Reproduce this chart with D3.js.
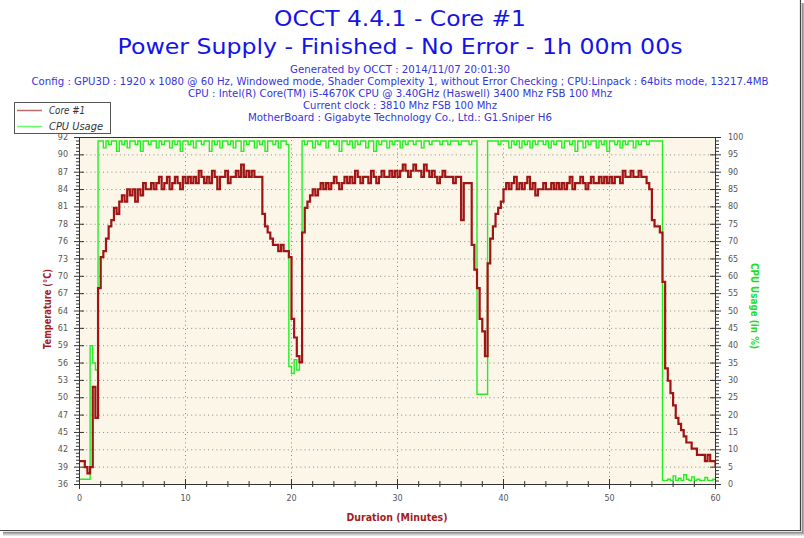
<!DOCTYPE html>
<html><head><meta charset="utf-8">
<script src="https://cdn.jsdelivr.net/npm/d3@7"></script>
<style>
body{margin:0;background:#fff}
svg{display:block}
text{font-family:"DejaVu Sans",Verdana,sans-serif}
</style>
</head><body>
<svg id="chart" width="804" height="538"></svg>
<script>
// ---------------- data ----------------
const titleLines = ["OCCT 4.4.1 - Core #1", "Power Supply - Finished - No Error - 1h 00m 00s"];
const infoLines = [
  "Generated by OCCT : 2014/11/07 20:01:30",
  "Config : GPU3D : 1920 x 1080 @ 60 Hz, Windowed mode, Shader Complexity 1, without Error Checking ; CPU:Linpack : 64bits mode, 13217.4MB",
  "CPU : Intel(R) Core(TM) i5-4670K CPU @ 3.40GHz (Haswell) 3400 Mhz FSB 100 Mhz",
  "Current clock : 3810 Mhz FSB 100 Mhz",
  "MotherBoard : Gigabyte Technology Co., Ltd.: G1.Sniper H6"
];
const seriesNames = ["Core #1", "CPU Usage"];
const cpuTickValues = [0,5,10,15,20,25,30,35,40,45,50,55,60,65,70,75,80,85,90,95,100];
const tempTickLabels = ["36","39","42","45","47","50","53","56","59","61","64","67","70","73","76","78","81","84","87","90","92"];
const cpuTickLabels = ["0","5","10","15","20","25","30","35","40","45","50","55","60","65","70","75","80","85","90","95","100"];
const minuteTicks = [0,10,20,30,40,50,60];
const tempDomain = [36.2, 92.38];

// sample times (minutes), one reading every 15 s
const sampleStep = 0.25;
// Core #1 temperature (°C), one value per sample
const coreTemp = [
  40,40,39,38,39,52,47,68,73,74,
  76,78,79,81,80,82,83,82,84,83,
  84,82,84,83,85,84,84,85,84,85,
  86,84,85,86,84,85,86,85,84,86,
  85,86,85,86,85,87,86,85,86,85,
  87,86,84,86,86,87,85,86,86,87,
  86,88,86,87,86,87,86,86,86,80,
  78,77,76,75,75,74,75,74,74,73,
  63,60,57,56,77,81,82,83,84,83,
  84,85,84,85,84,85,86,85,84,85,
  86,85,86,85,87,86,85,86,86,85,
  87,86,85,86,87,86,86,87,86,87,
  86,87,88,87,86,87,88,87,87,86,
  88,87,86,87,86,85,86,87,86,86,
  86,85,86,86,79,85,85,85,75,71,
  68,63,61,57,72,76,78,80,81,82,
  84,85,84,85,86,84,85,84,85,86,
  84,85,83,84,84,85,84,84,85,84,
  85,84,85,84,85,86,84,85,85,86,
  85,84,85,86,85,85,86,85,86,85,
  86,85,86,86,85,87,86,86,87,86,
  86,87,86,86,85,84,79,78,78,77,
  69,55,53,51,49,47,46,45,44,43,
  43,42,42,41,41,41,40,41,40,40,
  39
];
// CPU usage (%), one value per sample
const cpuUsage = [
  1.5,1.5,1.5,1.5, 40,35,33,
  99,99,97,99,98,99,99,96,99,98,
  99,97,99,99,98,99,96,99,99,98,
  99,99,97,99,98,99,99,97,99,98,
  99,96,99,99,98,99,97,99,99,98,
  99,99,96,99,98,99,97,99,99,98,
  99,97,99,99,96,99,98,99,99,97,
  99,98,99,96,99,99,98,99,97,99,
  99,98,
  34,32,36,33,35,
  99,98,99,99,97,99,98,99,99,97,
  99,99,98,99,96,99,99,98,99,97,
  99,98,99,99,97,99,99,96,99,98,
  99,99,97,99,98,99,99,97,99,98,
  99,99,98,99,99,97,99,99,98,99,
  99,99,98,99,99,98,99,99,99,98,
  99,99,99,98,99,99,
  26,26,26,26,
  99,99,99,99,98,99,99,99,97,99,
  98,99,97,99,98,99,97,99,98,99,
  99,98,99,97,99,98,99,99,97,99,
  99,98,99,96,99,99,97,99,98,99,
  99,97,99,98,99,96,99,99,98,99,
  97,99,98,99,99,97,99,98,99,99,
  98,99,99,99,99,99,
  1.2,1.2,1.5,1.2,2.5,1.2,1.8,1.2,2.8,1.5,
  1.2,2.2,1.2,1.5,1.2,1.2,2,1.2,1.2,1.5,1.2
];

// ---------------- drawing ----------------
const svg = d3.select("#chart");
const plot = {left: 79, right: 715, top: 137, bottom: 484};

const x = d3.scaleLinear().domain([0, 60]).range([plot.left, plot.right]);
const yCpu = d3.scaleLinear().domain([0, 100]).range([plot.bottom, plot.top]);
const yTemp = d3.scaleLinear().domain(tempDomain).range([plot.bottom, plot.top]);

// outer frame with shadow (right + bottom)
const frame = svg.append("g");
frame.append("line").attr("x1",800.5).attr("x2",800.5).attr("y1",0).attr("y2",531).attr("stroke","#444").attr("stroke-width",1.2);
frame.append("line").attr("x1",0).attr("x2",801).attr("y1",530.5).attr("y2",530.5).attr("stroke","#444").attr("stroke-width",1.2);
[["#777",1.8],["#999",2.8],["#bbb",3.8],["#ddd",4.8]].forEach(([c,o])=>{
  frame.append("line").attr("x1",800.5+o).attr("x2",800.5+o).attr("y1",3).attr("y2",531+o).attr("stroke",c);
  frame.append("line").attr("x1",3).attr("x2",801+o).attr("y1",530.5+o).attr("y2",530.5+o).attr("stroke",c);
});

// titles
const titleY = [19, 47];
const titleLen = [252, 565];
titleLines.forEach((t,i)=>{
  svg.append("text").attr("x",400).attr("y",titleY[i]).attr("text-anchor","middle")
    .attr("dominant-baseline","central").attr("fill","#1414e6").attr("font-size",21)
    .attr("textLength",titleLen[i]).attr("lengthAdjust","spacingAndGlyphs").text(t);
});
const infoY = [69, 81, 93, 105.5, 117.5];
const infoLen = [220, 737, 424, 194, 304];
infoLines.forEach((t,i)=>{
  svg.append("text").attr("x",400).attr("y",infoY[i]).attr("text-anchor","middle")
    .attr("dominant-baseline","central").attr("fill","#3535dc").attr("font-size",10)
    .attr("textLength",infoLen[i]).attr("lengthAdjust","spacingAndGlyphs").text(t);
});

// plot background
svg.append("rect").attr("x",plot.left+0.5).attr("y",plot.top+0.5)
  .attr("width",plot.right-plot.left).attr("height",plot.bottom-plot.top).attr("fill","#fcf6e8");

// grid
const grid = svg.append("g").attr("stroke","#8a8a8a").attr("stroke-dasharray","1,3.2").attr("stroke-width",1);
cpuTickValues.slice(1,-1).forEach(v=>{
  grid.append("line").attr("x1",plot.left+3).attr("x2",plot.right).attr("y1",yCpu(v)+0.5).attr("y2",yCpu(v)+0.5);
});
minuteTicks.slice(1,-1).forEach(v=>{
  grid.append("line").attr("y1",plot.top+3).attr("y2",plot.bottom).attr("x1",x(v)+0.5).attr("x2",x(v)+0.5);
});

// series
const clip = svg.append("clipPath").attr("id","clip").append("rect")
  .attr("x",plot.left).attr("y",plot.top).attr("width",plot.right-plot.left+1).attr("height",plot.bottom-plot.top+1);
const g = svg.append("g").attr("clip-path","url(#clip)");
const cpuLine = d3.line().x((d,i)=>x(i*sampleStep)+0.5).y(d=>yCpu(d)+0.5).curve(d3.curveStepAfter);
const tempLine = d3.line().x((d,i)=>x(i*sampleStep)+0.5).y(d=>yTemp(d)+0.5).curve(d3.curveStepAfter);
g.append("path").datum(cpuUsage).attr("d",cpuLine).attr("fill","none").attr("stroke","#22ee22").attr("stroke-width",1.4);
g.append("path").datum(coreTemp).attr("d",tempLine).attr("fill","none").attr("stroke","#a01414").attr("stroke-width",2.2);

// top border
svg.append("line").attr("x1",plot.left).attr("x2",plot.right+1).attr("y1",plot.top+0.5).attr("y2",plot.top+0.5).attr("stroke","#333");

// axes
function styleAxis(sel){
  sel.select(".domain").attr("stroke","#333");
  sel.selectAll(".tick line").attr("stroke","#333");
  sel.selectAll(".tick text").attr("fill","#555").attr("font-size",8).attr("font-family","'Liberation Sans',Arial,sans-serif");
}
const minorY = d3.range(0,101,1).filter(v=>v%5!==0);
const minorX = d3.range(0,61,2).filter(v=>v%10!==0);

// left (temperature)
const leftMinor = svg.append("g").attr("transform",`translate(${plot.left},0)`)
  .call(d3.axisLeft(yCpu).tickValues(minorY).tickSize(3).tickFormat(""));
leftMinor.select(".domain").remove(); leftMinor.selectAll("line").attr("stroke","#333");
const leftAx = svg.append("g").attr("transform",`translate(${plot.left},0)`)
  .call(d3.axisLeft(yCpu).tickValues(cpuTickValues).tickSize(5).tickSizeOuter(0).tickPadding(6)
    .tickFormat((d,i)=>tempTickLabels[i]));
leftAx.selectAll(".tick line").attr("x1",5);
styleAxis(leftAx);

// right (cpu)
const rightMinor = svg.append("g").attr("transform",`translate(${plot.right},0)`)
  .call(d3.axisRight(yCpu).tickValues(minorY).tickSize(4).tickFormat(""));
rightMinor.select(".domain").remove(); rightMinor.selectAll("line").attr("stroke","#333");
const rightAx = svg.append("g").attr("transform",`translate(${plot.right},0)`)
  .call(d3.axisRight(yCpu).tickValues(cpuTickValues).tickSize(6).tickSizeOuter(0).tickPadding(7)
    .tickFormat((d,i)=>cpuTickLabels[i]));
rightAx.selectAll(".tick line").attr("x1",-5);
styleAxis(rightAx);

// bottom (minutes)
const botMinor = svg.append("g").attr("transform",`translate(0,${plot.bottom})`)
  .call(d3.axisBottom(x).tickValues(minorX).tickSize(3).tickFormat(""));
botMinor.select(".domain").remove(); botMinor.selectAll("line").attr("stroke","#333").attr("y1",-3);
const botAx = svg.append("g").attr("transform",`translate(0,${plot.bottom})`)
  .call(d3.axisBottom(x).tickValues(minuteTicks).tickSize(5).tickSizeOuter(0).tickPadding(6).tickFormat(d=>String(d)));
botAx.selectAll(".tick line").attr("y1",-5);
styleAxis(botAx);

// axis titles
svg.append("text").attr("transform","translate(47,309) rotate(-90)").attr("text-anchor","middle")
  .attr("dominant-baseline","central").attr("fill","#a51c1c").attr("font-weight","bold").attr("font-size",10)
  .attr("textLength",80).attr("lengthAdjust","spacingAndGlyphs").text("Temperature (°C)");
svg.append("text").attr("transform","translate(754,306) rotate(90)").attr("text-anchor","middle")
  .attr("dominant-baseline","central").attr("fill","#22dd22").attr("font-weight","bold").attr("font-size",10)
  .attr("textLength",86).attr("lengthAdjust","spacingAndGlyphs").text("CPU Usage (in %)");
svg.append("text").attr("x",397).attr("y",517).attr("text-anchor","middle")
  .attr("dominant-baseline","central").attr("fill","#a51c1c").attr("font-weight","bold").attr("font-size",10.5)
  .attr("textLength",101).attr("lengthAdjust","spacingAndGlyphs").text("Duration (Minutes)");

// legend
const leg = svg.append("g");
leg.append("rect").attr("x",14.5).attr("y",102.5).attr("width",96).attr("height",31)
  .attr("fill","#fff").attr("stroke","#555");
const legColors = ["#c06868","#66ff66"];
const legY = [110, 126];
const legLen = [36, 54];
seriesNames.forEach((n,i)=>{
  leg.append("line").attr("x1",17).attr("x2",42).attr("y1",legY[i]+0.5).attr("y2",legY[i]+0.5)
    .attr("stroke",legColors[i]).attr("stroke-width",1.5);
  leg.append("text").attr("x",49).attr("y",legY[i]).attr("dominant-baseline","central")
    .attr("font-size",10).attr("font-style","italic").attr("fill","#333")
    .attr("textLength",legLen[i]).attr("lengthAdjust","spacingAndGlyphs").text(n);
});
</script>
</body></html>
